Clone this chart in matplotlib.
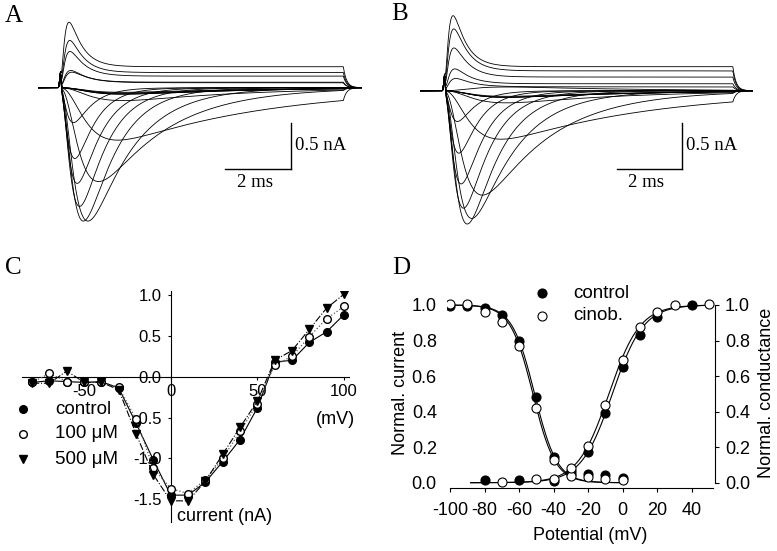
import numpy as np
import matplotlib
matplotlib.use("Agg")
import matplotlib.pyplot as plt
from matplotlib.lines import Line2D
from matplotlib.ticker import FormatStrFormatter

plt.rcParams['font.family'] = ['Liberation Sans', 'DejaVu Sans']
plt.rcParams['axes.unicode_minus'] = False

W, H = 777, 551

# ---------------- data ----------------
# test potentials of the I-V protocol (mV)
volts = [-80, -70, -60, -50, -40, -30, -20, -10, 0, 10, 20, 30, 40, 50, 60, 70, 80, 90, 100]
# peak currents (nA)
i_control = [-0.07, -0.05, -0.06, -0.07, -0.06, -0.14, -0.57, -1.02, -1.45, -1.45,
             -1.29, -1.04, -0.77, -0.38, 0.18, 0.20, 0.42, 0.55, 0.76]
i_100 = [-0.07, 0.04, -0.06, -0.07, -0.07, -0.13, -0.52, -1.12, -1.37, -1.43,
         -1.26, -1.00, -0.67, -0.33, 0.14, 0.25, 0.49, 0.71, 0.86]
i_500 = [-0.08, -0.08, 0.07, -0.07, -0.07, -0.16, -0.70, -1.20, -1.52, -1.52,
         -1.28, -0.95, -0.62, -0.30, 0.20, 0.32, 0.58, 0.84, 1.01]

# kinetics of the raw traces (ms) and sustained fraction of the outward traces
tau_act = [0.7, 0.7, 0.7, 0.7, 0.7, 0.7, 0.55, 0.45, 0.35, 0.32,
           0.27, 0.24, 0.21, 0.19, 0.14, 0.13, 0.12, 0.12, 0.11]
tau_inact = [3.5, 3.5, 3.5, 3.5, 3.5, 3.5, 4.5, 2.0, 1.3, 0.95,
             0.8, 0.7, 0.6, 0.55, 0.5, 0.45, 0.42, 0.4, 0.38]
plateau_frac = [0, 0, 0, 0, 0, 0, 0, 0, 0, 0, 0, 0, 0, 0, 0.3, 0.3, 0.3, 0.3, 0.3]

# steady-state inactivation / activation (panel D)
v_inact = [-100, -90, -80, -70, -60, -50, -40, -30, -20, -10, 0]
inact_control = [0.995, 0.995, 0.985, 0.945, 0.80, 0.48, 0.145, 0.05, 0.05, 0.045, 0.025]
inact_cinob = [1.005, 1.005, 0.96, 0.905, 0.77, 0.42, 0.125, 0.04, 0.03, 0.02, 0.015]

v_act_control = [-80, -60, -40, -30, -20, -10, 0, 10, 20, 40]
act_control = [0.015, 0.015, 0.01, 0.065, 0.17, 0.39, 0.65, 0.83, 0.93, 1.0]
v_act_cinob = [-70, -50, -40, -30, -20, -10, 0, 10, 20, 30, 50]
act_cinob = [0.005, 0.02, 0.02, 0.08, 0.205, 0.44, 0.69, 0.875, 0.96, 1.0, 1.005]

# Boltzmann fits: (V1/2, slope)
fit_inact = {'control': (-51.0, 6.5), 'cinob': (-52.0, 6.5)}
fit_act = {'control': (-6.0, 9.0), 'cinob': (-8.0, 9.0)}


def px_axes(fig, x0, x1, y0, y1):
    return fig.add_axes([x0 / W, 1 - y1 / H, (x1 - x0) / W, (y1 - y0) / H])


def trace(t, t_on, t_off, amp, tm, th, ss):
    s = np.clip(t - t_on, 0, None)
    act = (1 - np.exp(-s / tm)) ** 3
    f = act * np.exp(-s / th)
    f = f / f.max()
    g = amp * ((1 - ss) * f + ss * act)
    k = np.searchsorted(t, t_off)
    g[k:] = g[k] * np.exp(-(t[k:] - t_off) / 0.1)
    g += 0.15 * np.exp(-((t - t_on - 0.03) / 0.03) ** 2)
    return g


def draw_traces(ax, amps, t_end, t_on, t_off, bar_t, bar_y):
    t = np.linspace(0, t_end, 3000)
    for a, tm, th, ss in zip(amps, tau_act, tau_inact, plateau_frac):
        ax.plot(t, trace(t, t_on, t_off, a, tm, th, ss), color='k', lw=0.6)
    # scale bars: 0.5 nA, 2 ms
    ax.plot([bar_t, bar_t], [bar_y, bar_y - 0.5], color='k', lw=1)
    ax.plot([bar_t - 2, bar_t], [bar_y - 0.5, bar_y - 0.5], color='k', lw=1)
    ax.text(bar_t + 0.13, bar_y - 0.24, '0.5 nA', family='Liberation Serif',
            fontsize=13.5, va='center', ha='left')
    ax.text(bar_t - 1.1, bar_y - 0.64, '2 ms', family='Liberation Serif',
            fontsize=13.5, va='center', ha='center')
    ax.set_xlim(0, t_end)
    ax.set_ylim(-1.55, 0.85)
    ax.axis('off')


fig = plt.figure(figsize=(W / 100, H / 100), dpi=100)

# ---------------- A / B : raw traces ----------------
axA = px_axes(fig, 38.3, 361.7, 9.5, 230.3)
draw_traces(axA, i_control, 9.86, 0.64, 9.3, 7.70, -0.387)
axB = px_axes(fig, 420, 753.3, 11.5, 235.2)
draw_traces(axB, i_100, 10.26, 0.72, 9.63, 8.07, -0.343)

for lab, x, y in [('A', 14, 16), ('B', 400, 14), ('C', 13, 268), ('D', 401, 268)]:
    fig.text(x / W, 1 - y / H, lab, family='Liberation Serif', fontsize=18,
             ha='center', va='center')

# ---------------- C : I-V curves ----------------
axC = px_axes(fig, 21.7, 349.2, 290.9, 522.1)
axC.plot(volts, i_control, color='k', lw=0.8, ls='-', marker='o', ms=5.5,
         mfc='k', mec='k', zorder=3)
axC.plot(volts, i_100, color='0.35', lw=0.9, ls=':', marker='o', ms=5.5,
         mfc='white', mec='k', zorder=4)
axC.plot(volts, i_500, color='k', lw=0.8, ls='-.', marker='v', ms=5.5,
         mfc='k', mec='k', zorder=5)
axC.set_xlim(-86, 103)
axC.set_ylim(-1.78, 1.05)
axC.spines['left'].set_position(('data', 0))
axC.spines['bottom'].set_position(('data', 0))
axC.spines['top'].set_visible(False)
axC.spines['right'].set_visible(False)
for sp in ('left', 'bottom'):
    axC.spines[sp].set_linewidth(0.8)
axC.set_xticks([-50, 0, 50, 100])
axC.set_yticks([-1.5, -1.0, -0.5, 0.0, 0.5, 1.0])
axC.yaxis.set_major_formatter(FormatStrFormatter('%.1f'))
axC.tick_params(axis='y', direction='out', length=2.5, width=0.8, labelsize=12, pad=4)
axC.tick_params(axis='x', direction='out', length=2.5, width=0.8, labelsize=12, pad=2.5)
axC.patch.set_visible(False)
axC.text(95, -0.53, '(mV)', fontsize=13, ha='center', va='center')
axC.text(3.6, -1.71, 'current (nA)', fontsize=13, ha='left', va='center')

legC = [('control', 'o', 'k'), ('100 μM', 'o', 'white'), ('500 μM', 'v', 'k')]
for i, (lab, mk, fc) in enumerate(legC):
    y = 1 - (409 + 25 * i) / H
    fig.add_artist(Line2D([23 / W], [y], marker=mk, ms=5.5, mfc=fc, mec='k',
                          ls='none', transform=fig.transFigure))
    fig.text(55 / W, y, lab, fontsize=13.5, va='center', ha='left')

# ---------------- D : activation / inactivation ----------------
axD = px_axes(fig, 446.5, 715.1, 287.2, 488.4)
vi = np.linspace(-100, 0, 300)
va = np.linspace(-88, 52, 300)
for v12, k in fit_inact.values():
    axD.plot(vi, 1 / (1 + np.exp((vi - v12) / k)), color='k', lw=0.8, zorder=2)
for v12, k in fit_act.values():
    axD.plot(va, 1 / (1 + np.exp(-(va - v12) / k)), color='k', lw=0.8, zorder=2)

mk = dict(marker='o', ms=6.5, mec='k', mew=0.8, ls='none')
axD.plot(v_inact, inact_control, mfc='k', zorder=3, **mk)
axD.plot(v_act_control, act_control, mfc='k', zorder=3, **mk)
axD.plot(v_inact, inact_cinob, mfc='white', zorder=4, **mk)
axD.plot(v_act_cinob, act_cinob, mfc='white', zorder=4, **mk)

axD.set_xlim(-102, 53.5)
axD.set_ylim(-0.032, 1.1)
axD.spines['left'].set_visible(False)
axD.spines['top'].set_visible(False)
axD.spines['right'].set_bounds(0, 1)
axD.spines['bottom'].set_bounds(-100, 52)
axD.set_xticks(range(-100, 41, 20))
axD.set_yticks(np.arange(0, 1.01, 0.2))
axD.yaxis.set_major_formatter(FormatStrFormatter('%.1f'))
axD.tick_params(axis='x', direction='out', length=3, width=0.8, labelsize=13, pad=7)
axD.tick_params(axis='y', left=False, right=True, labelleft=True, labelright=True,
                direction='out', length=3, width=0.8, labelsize=13, pad=4)
axD.set_xlabel('Potential (mV)', fontsize=13)
axD.xaxis.set_label_coords(0.534, -0.19)
axD.set_ylabel('Normal. current', fontsize=13)
axD.yaxis.set_label_coords(-0.14, 0.475)
axD.text(1.192, 0.475, 'Normal. conductance', transform=axD.transAxes,
         rotation=90, fontsize=13, ha='center', va='center')
axD.patch.set_visible(False)

legD = [('control', 'k'), ('cinob.', 'white')]
for i, (lab, fc) in enumerate(legD):
    y = 1 - (293 + 23 * i) / H
    fig.add_artist(Line2D([542 / W], [y], marker='o', ms=6.5, mfc=fc, mec='k',
                          mew=0.8, ls='none', transform=fig.transFigure))
    fig.text(573 / W, y, lab, fontsize=13.5, va='center', ha='left')

fig.savefig('out.png', dpi=100)
